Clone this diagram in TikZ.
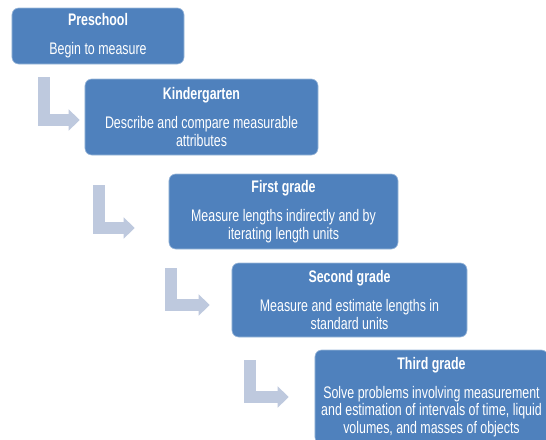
\documentclass[tikz,border=0pt]{standalone}
\usepackage{fontspec}
\setmainfont{Liberation Sans}[FakeStretch=0.74]
\usetikzlibrary{arrows.meta,calc}
\definecolor{boxblue}{RGB}{79,129,189}
\definecolor{arrowgray}{RGB}{190,201,222}
\tikzset{
  stage/.style={draw=boxblue!55!white, line width=0.5pt, fill=boxblue, rounded corners=0.2cm,
    text=white, align=center, inner sep=0pt, font=\fontsize{14.3}{15}\selectfont},
  bent/.style={draw=arrowgray, line width=0.36cm, -{Triangle[width=0.62cm,length=0.33cm]}}
}

\begin{document}
\begin{tikzpicture}[x=0.03cm,y=-0.03cm]
\clip (0,0) rectangle (546,440);
\fill[white] (0,0) rectangle (546,440);
%\draw[help lines,step=20] (0,0) grid (546,440);
\node[stage, minimum width=5.16cm, minimum height=1.68cm] (pre) at (98,36)
  {\textbf{Preschool}\\[10pt]Begin to measure};
\node[stage, minimum width=6.99cm, minimum height=2.28cm] (kinder) at (201.5,117)
  {\textbf{Kindergarten}\\[10pt]Describe and compare measurable\\attributes};
\node[stage, minimum width=6.87cm, minimum height=2.25cm] (first) at (283.5,211.5)
  {\textbf{First grade}\\[10pt]Measure lengths indirectly and by\\iterating length units};
\node[stage, minimum width=7.05cm, minimum height=2.22cm] (second) at (349.5,300)
  {\textbf{Second grade}\\[10pt]Measure and estimate lengths in\\standard units};
\node[stage, minimum width=6.99cm, minimum height=2.82cm] (third) at (431.5,397)
  {\textbf{Third grade}\\[10pt]Solve problems involving measurement\\and estimation of intervals of time, liquid\\volumes, and masses of objects};

\draw[bent] ($(pre.south west)+(32.5,13)$) |- ($(kinder.west)+(-5,3)$);
\draw[bent] ($(kinder.south west)+(14.5,30)$) |- ($(first.west)+(-34,16.5)$);
\draw[bent] ($(first.south west)+(2.5,19)$) |- ($(second.west)+(-22,5)$);
\draw[bent] ($(second.south west)+(18.5,23)$) |- ($(third.west)+(-26,0)$);
\end{tikzpicture}
\end{document}
